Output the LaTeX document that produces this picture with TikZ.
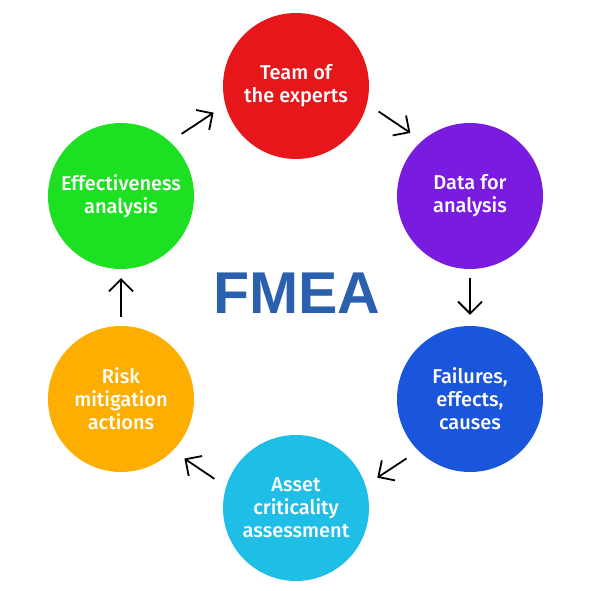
\documentclass[tikz,border=0pt]{standalone}
\usepackage{fontspec}
\setmainfont{Fira Sans}[UprightFont=* Medium]
\newfontfamily\titlefont{Liberation Sans}
\usetikzlibrary{arrows.meta}

\definecolor{teamred}{HTML}{E6161A}
\definecolor{datapurple}{HTML}{7A1CE0}
\definecolor{failblue}{HTML}{1A56DC}
\definecolor{assetcyan}{HTML}{1EBEE6}
\definecolor{riskorange}{HTML}{FDAE00}
\definecolor{effgreen}{HTML}{1EE022}
\definecolor{fmeablue}{HTML}{2A60AD}

\tikzset{
  stage/.style={circle, minimum size=146pt, inner sep=0pt, text=white,
    align=center, font=\fontsize{20}{23}\selectfont},
  flow/.style={->, line width=1.8pt, shorten <=14pt, shorten >=14pt}
}

\begin{document}
\begin{tikzpicture}[x=1pt, y=1pt, >={Straight Barb[length=12pt, width=24pt]}]
    \useasboundingbox (0,0) rectangle (594,591);

    % Các vòng tròn
    \node[stage, fill=teamred]    (team)     at (296,505) {Team of\\the experts};
    \node[stage, fill=datapurple] (data)     at (470,395) {Data for\\analysis};
    \node[stage, fill=failblue]   (failures) at (470,192) {Failures,\\effects,\\causes};
    \node[stage, fill=assetcyan]  (asset)    at (296,83)  {Asset\\criticality\\assessment};
    \node[stage, fill=riskorange] (risk)     at (121,192) {Risk\\mitigation\\actions};
    \node[stage, fill=effgreen]   (effect)   at (121,395) {Effectiveness\\analysis};

    % Tiêu đề ở giữa
    \node[text=fmeablue, font=\titlefont\bfseries\fontsize{59}{62}\selectfont] (fmea) at (297,298) {FMEA};

    % Các mũi tên
    \draw[flow] (team.-14) -- (data.131);
    \draw[flow, shorten <=9pt, shorten >=11pt] (data.-90) -- (failures.90);
    \draw[flow] (failures.-135) -- (asset.18);
    \draw[flow] (asset.163) -- (risk.-45);
    \draw[flow, shorten <=9pt, shorten >=9pt] (risk.90) -- (effect.-90);
    \draw[flow] (effect.48) -- (team.195);
\end{tikzpicture}
\end{document}
